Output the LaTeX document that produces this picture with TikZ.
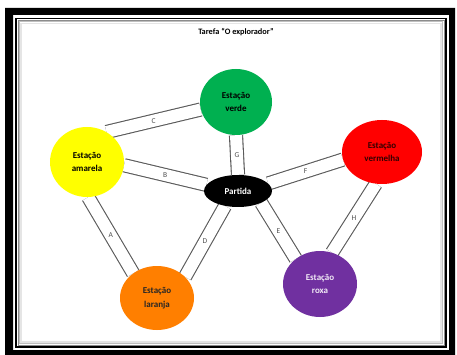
\documentclass[tikz,border=0pt]{standalone}
\usepackage{fontspec}
\setmainfont{Carlito}
\usetikzlibrary{shapes.geometric,backgrounds}
\definecolor{cyellow}{HTML}{FFFF00}
\definecolor{cgreen}{HTML}{00B050}
\definecolor{cred}{HTML}{FF0000}
\definecolor{corange}{HTML}{FF7F00}
\definecolor{cpurple}{HTML}{7030A0}
\definecolor{trackgray}{HTML}{5A5A5A}
\definecolor{labelgray}{HTML}{505050}
\begin{document}
\begin{tikzpicture}[x=1pt,y=-1pt,
  station/.style={ellipse,inner sep=0pt,align=center,
    font=\bfseries\fontsize{9}{13.5}\selectfont},
  track/.style={draw=trackgray,line width=1.1pt,double=white,double distance=12pt},
  tlabel/.style={font=\fontsize{7.5}{8}\selectfont,text=labelgray,inner sep=0.5pt}]
\useasboundingbox (0,0) rectangle (457,355);
% frame
\fill[black,even odd rule] (5,8) rectangle (455,355) (13,15) rectangle (449,350);
\draw[black,line width=1.4pt] (16,18.5) rectangle (446,347);
\draw[black!45,line width=1pt] (18,20.5) rectangle (444,345);
\draw[black!25,line width=1pt] (19.5,22) rectangle (442.5,343.5);
\draw[black!10,line width=1.5pt] (21,23.5) rectangle (441,342);
% title
\node[font=\bfseries\fontsize{8.3}{9}\selectfont] (title) at (236,32) {Tarefa “O explorador”};
% stations
\node[station,fill=cgreen,minimum width=72pt,minimum height=66pt] (verde) at (236,102) {Estação\\verde};
\node[station,fill=cyellow,minimum width=74pt,minimum height=70pt] (amarela) at (87,162) {Estação\\amarela};
\node[station,fill=cred,minimum width=80pt,minimum height=64pt,text=black!80!red] (vermelha) at (382,152) {Estação\\vermelha};
\node[station,fill=black,text=white,minimum width=68pt,minimum height=32pt] (partida) at (238,191) {Partida};
\node[station,fill=corange,minimum width=74pt,minimum height=64pt,text=black!85] (laranja) at (157,298) {Estação\\laranja};
\node[station,fill=cpurple,text=white!90!cpurple,minimum width=74pt,minimum height=66pt] (roxa) at (320,284) {Estação\\roxa};
% tracks
\begin{pgfonlayer}{background}
\fill[white] (0,0) rectangle (457,355);
\draw[track] (amarela.57) -- node[tlabel] (lC) {C} (verde.192);
\draw[track] (amarela.-5) -- node[tlabel] (lB) {B} (partida.169);
\draw[track] (verde.270) -- node[tlabel] (lG) {G} (partida.90);
\draw[track] (partida.14) -- node[tlabel] (lF) {F} (vermelha.191);
\draw[track] (vermelha.259) -- node[tlabel] (lH) {H} (roxa.69);
\draw[track] (partida.-27) -- node[tlabel] (lE) {E} (roxa.134);
\draw[track] (partida.229) -- node[tlabel] (lD) {D} (laranja.37);
\draw[track] (amarela.272) -- node[tlabel] (lA) {A} (laranja.134);
\end{pgfonlayer}
\end{tikzpicture}
\end{document}
